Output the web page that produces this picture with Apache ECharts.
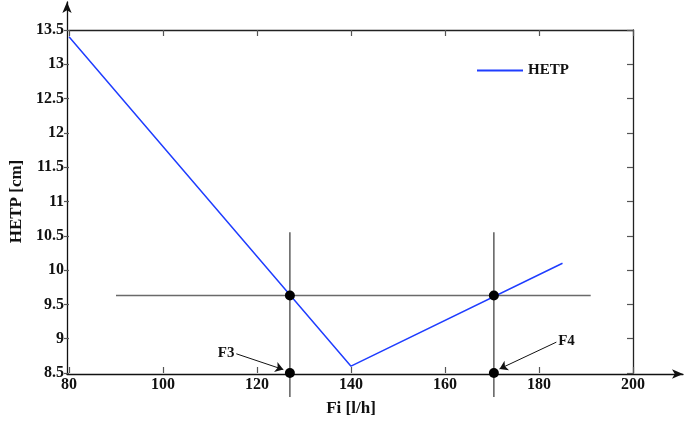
<!DOCTYPE html>
<html>
<head>
<meta charset="utf-8">
<script src="https://cdn.jsdelivr.net/npm/echarts@6/dist/echarts.min.js"></script>
<style>
  html, body { margin: 0; padding: 0; background: #fff; }
  #chart { width: 685px; height: 422px; }
</style>
</head>
<body>
<div id="chart"></div>
<script>
// HETP curve
var hetpFi = [80, 140, 185];
var hetpVal = [13.4, 8.6, 10.1];

// horizontal reference level
var levelFi = [90, 191];
var levelVal = 9.63;

// crossing flows F3, F4
var crossNames = ['F3', 'F4'];
var crossFi = [127, 170.4];
var vertSpan = [8.15, 10.55];

// annotation arrows: label start point -> tip
var noteStart = [[115.6, 8.78], [183.7, 8.95]];
var noteEnd = [[125.6, 8.55], [171.6, 8.56]];

var font = 'Liberation Serif';
var chart = echarts.init(document.getElementById('chart'));

var boxLine = { show: true, onZero: false, lineStyle: { color: '#222', width: 1.3 } };
var noLine = { show: false, onZero: false };
var inTick = { show: true, inside: true, length: 6, lineStyle: { color: '#555', width: 1.2 } };
var outTick = { show: true, inside: false, length: 5, lineStyle: { color: '#555', width: 1.2 } };

var hetpData = hetpFi.map(function (x, i) { return [x, hetpVal[i]]; });
var dots = [];
crossFi.forEach(function (x) { dots.push([x, levelVal]); dots.push([x, 8.5]); });

var vertSeries = crossFi.map(function (x, i) {
  return {
    name: 'v' + i, type: 'line', xAxisIndex: 0, yAxisIndex: 0,
    data: [[x, vertSpan[0]], [x, vertSpan[1]]],
    symbol: 'none', clip: false, silent: true,
    lineStyle: { color: '#444', width: 1.3 }, z: 3
  };
});

var notes = crossNames.map(function (n, i) {
  return [{ coord: noteStart[i], name: n }, { coord: noteEnd[i] }];
});

// the arrowed axes (grid 1) carry the left and bottom lines
var arrowLine = { show: true, onZero: false, symbol: ['none', 'arrow'], symbolSize: [7, 11], lineStyle: { color: '#111', width: 1.3 } };

chart.setOption({
  animation: false,
  grid: [
    { left: 67, right: 52, top: 30, bottom: 48 },
    { left: 67, right: 2, top: 2, bottom: 48 }
  ],
  legend: {
    data: [{ name: 'HETP', icon: 'rect' }], left: 477, top: 63, padding: 0,
    itemWidth: 46, itemHeight: 2,
    textStyle: { fontFamily: font, fontWeight: 'bold', fontSize: 15, color: '#111' }
  },
  xAxis: [
    {
      type: 'value', gridIndex: 0, min: 80, max: 200, interval: 20, position: 'bottom',
      axisLine: noLine, axisTick: inTick, splitLine: { show: false },
      axisLabel: { margin: 4, fontFamily: font, fontWeight: 'bold', fontSize: 16, color: '#111' },
      name: 'Fi [l/h]', nameLocation: 'middle', nameGap: 27,
      nameTextStyle: { fontFamily: font, fontWeight: 'bold', fontSize: 17, color: '#111' }
    },
    {
      type: 'value', gridIndex: 0, min: 80, max: 200, interval: 20, position: 'top',
      axisLine: boxLine, axisTick: inTick, axisLabel: { show: false }, splitLine: { show: false }
    },
    {
      type: 'value', gridIndex: 1, min: 0, max: 1, axisLine: arrowLine,
      axisTick: { show: false }, axisLabel: { show: false }, splitLine: { show: false }
    }
  ],
  yAxis: [
    {
      type: 'value', gridIndex: 0, min: 8.5, max: 13.5, interval: 0.5, position: 'left',
      axisLine: noLine, axisTick: outTick, splitLine: { show: false },
      axisLabel: { margin: 5, fontFamily: font, fontWeight: 'bold', fontSize: 16, color: '#111' },
      name: 'HETP [cm]', nameLocation: 'middle', nameGap: 44,
      nameTextStyle: { fontFamily: font, fontWeight: 'bold', fontSize: 17, color: '#111' }
    },
    {
      type: 'value', gridIndex: 0, min: 8.5, max: 13.5, interval: 0.5, position: 'right',
      axisLine: boxLine, axisTick: inTick, axisLabel: { show: false }, splitLine: { show: false }
    },
    {
      type: 'value', gridIndex: 1, min: 0, max: 1, axisLine: arrowLine,
      axisTick: { show: false }, axisLabel: { show: false }, splitLine: { show: false }
    }
  ],
  series: [
    {
      name: 'level', type: 'line', xAxisIndex: 0, yAxisIndex: 0,
      data: levelFi.map(function (x) { return [x, levelVal]; }),
      symbol: 'none', silent: true, lineStyle: { color: '#6a6a6a', width: 1.5 }, z: 2
    }
  ].concat(vertSeries).concat([
    {
      name: 'HETP', type: 'line', xAxisIndex: 0, yAxisIndex: 0, data: hetpData,
      symbol: 'none', color: '#1f3dff', lineStyle: { color: '#1f3dff', width: 1.5 }, z: 4
    },
    {
      name: 'points', type: 'scatter', xAxisIndex: 0, yAxisIndex: 0, data: dots,
      symbolSize: 10, clip: false, itemStyle: { color: '#000', opacity: 1 }, z: 5,
      markLine: {
        silent: true, symbol: ['none', 'arrow'], symbolSize: 8,
        lineStyle: { color: '#111', width: 1, type: 'solid' },
        label: {
          show: true, position: 'start', distance: 2, formatter: function (p) { return p.name; },
          fontFamily: font, fontWeight: 'bold', fontSize: 15, color: '#111'
        },
        data: notes
      }
    }
  ])
});
</script>
</body>
</html>
